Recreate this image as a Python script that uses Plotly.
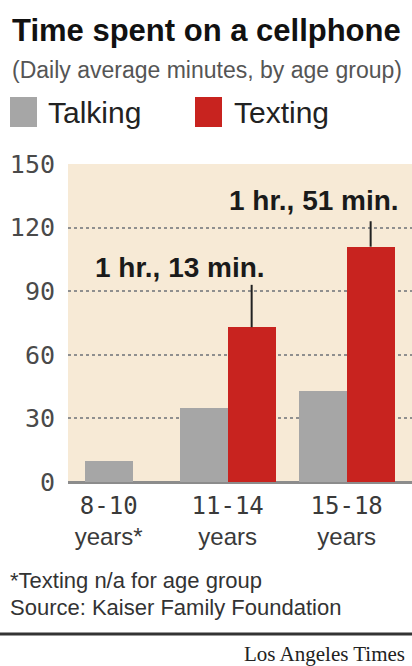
import plotly.graph_objects as go

# ---- data ----
age_groups = ["8-10", "11-14", "15-18"]
age_suffix = ["years*", "years", "years"]
talking = [10, 35, 43]
texting = [None, 73, 111]
texting_labels = [None, "1 hr., 13 min.", "1 hr., 51 min."]
y_ticks = [0, 30, 60, 90, 120, 150]
series_names = ["Talking", "Texting"]
title = "Time spent on a cellphone"
subtitle = "(Daily average minutes, by age group)"
footnote = "*Texting n/a for age group"
source = "Source: Kaiser Family Foundation"
credit = "Los Angeles Times"

# ---- style ----
W, H = 412, 666
L, R, T, B = 68, 0, 164, 184
PW, PH = W - L - R, H - T - B
GRAY = "#a6a6a6"
RED = "#c8231f"
BEIGE = "#f7ead6"
bw = 0.403
xr = [-0.342, 2.549]

def pxx(px):
    return (px - L) / PW

def pyy(py):
    return (H - B - py) / PH

xs = list(range(len(age_groups)))
gray_off = [(-bw if t is not None else -bw / 2) for t in texting]

fig = go.Figure()
fig.add_trace(go.Bar(x=xs, y=talking, width=bw, offset=gray_off,
                     marker=dict(color=GRAY, line=dict(width=0)),
                     name=series_names[0], showlegend=False, hoverinfo="skip"))
tx = [x for x, t in zip(xs, texting) if t is not None]
ty = [t for t in texting if t is not None]
fig.add_trace(go.Bar(x=tx, y=ty, width=bw, offset=0,
                     marker=dict(color=RED, line=dict(width=0)),
                     name=series_names[1], showlegend=False, hoverinfo="skip"))

mono = "DejaVu Sans Mono"
ticktext = [f"<span style='font-family:{mono}'>{a}</span><br>{s}" for a, s in zip(age_groups, age_suffix)]

fig.update_layout(
    width=W, height=H, margin=dict(l=L, r=R, t=T, b=B, pad=0),
    paper_bgcolor="white", plot_bgcolor=BEIGE,
    barmode="overlay", bargap=0,
    font=dict(family="Liberation Sans, Arial, sans-serif", color="#333"),
    xaxis=dict(range=xr, tickmode="array", tickvals=xs, ticktext=ticktext,
               showgrid=False, zeroline=False, showline=False,
               tickfont=dict(size=24, color="#3a3a3a", family="Liberation Sans"),
               ticks="", ticklabelstandoff=7),
    yaxis=dict(range=[0, 150], tickmode="array", tickvals=y_ticks,
               tickfont=dict(size=25, color="#4a4a4a", family=mono),
               showgrid=True, gridcolor="#8f8f8f", griddash="dot", gridwidth=1.5,
               zeroline=True, zerolinecolor="#8c8c8c", zerolinewidth=2.5,
               showline=False, ticks="", ticklabelstandoff=12),
)

# leader lines and labels
label_pos = {1: (0.60, 101), 2: (1.727, 133)}
line_top = {1: 93, 2: 123}
for i, (t, lab) in enumerate(zip(texting, texting_labels)):
    if t is None:
        continue
    cx = xs[i] + bw / 2
    fig.add_shape(type="line", xref="x", yref="y", x0=cx, x1=cx, y0=t, y1=line_top[i],
                  line=dict(color="#222", width=2))
    lx, ly = label_pos[i]
    fig.add_annotation(x=lx, y=ly, xref="x", yref="y", text=f"<b>{lab}</b>",
                       showarrow=False, xanchor="center", yanchor="middle",
                       font=dict(family="Liberation Sans", size=28, color="#1a1a1a"))

# title block
fig.add_annotation(x=pxx(10), y=pyy(30), xref="paper", yref="paper", text=f"<b>{title}</b>",
                   showarrow=False, xanchor="left", yanchor="middle",
                   font=dict(size=31, color="#111", family="Liberation Sans"))
fig.add_annotation(x=pxx(10), y=pyy(70), xref="paper", yref="paper", text=subtitle,
                   showarrow=False, xanchor="left", yanchor="middle",
                   font=dict(size=23, color="#555"))

# legend
for (x0, col, name, tx0) in [(10, GRAY, series_names[0], 46), (195, RED, series_names[1], 232)]:
    fig.add_shape(type="rect", xref="paper", yref="paper", x0=pxx(x0), x1=pxx(x0 + 27),
                  y0=pyy(127), y1=pyy(97), fillcolor=col, line=dict(width=0))
    fig.add_annotation(x=pxx(tx0), y=pyy(112), xref="paper", yref="paper", text=name,
                       showarrow=False, xanchor="left", yanchor="middle",
                       font=dict(size=30, color="#222"))

# footnotes
fig.add_annotation(x=pxx(8), y=pyy(580), xref="paper", yref="paper", text=footnote,
                   showarrow=False, xanchor="left", yanchor="middle",
                   font=dict(size=22, color="#333"))
fig.add_annotation(x=pxx(8), y=pyy(607), xref="paper", yref="paper", text=source,
                   showarrow=False, xanchor="left", yanchor="middle",
                   font=dict(size=22, color="#333"))
fig.add_shape(type="line", xref="paper", yref="paper", x0=pxx(0), x1=pxx(W),
              y0=pyy(634), y1=pyy(634), line=dict(color="#333", width=3))
fig.add_annotation(x=pxx(407), y=pyy(654), xref="paper", yref="paper", text=credit,
                   showarrow=False, xanchor="right", yanchor="middle",
                   font=dict(size=21, color="#222", family="Liberation Serif, DejaVu Serif, serif"))

fig.write_html("out.html", config={"displayModeBar": False},
               post_script="document.body.style.margin='0';document.body.style.overflow='hidden';")
